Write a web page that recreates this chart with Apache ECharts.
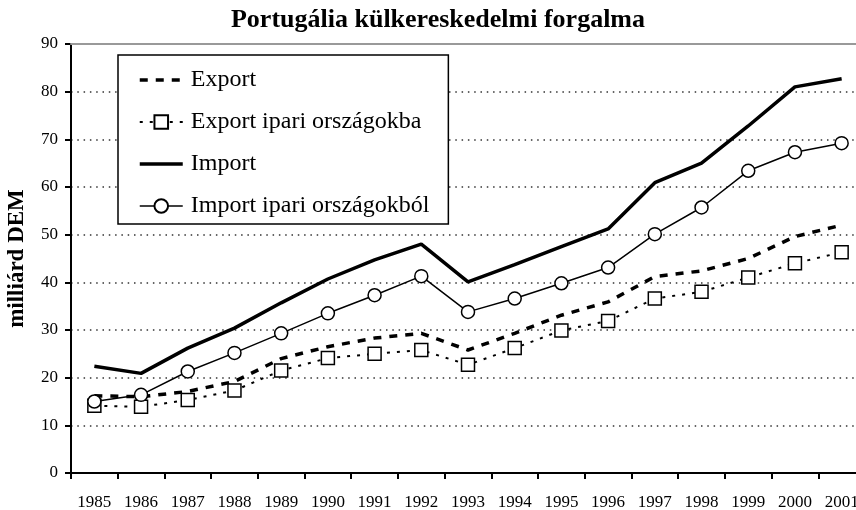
<!DOCTYPE html>
<html>
<head>
<meta charset="utf-8">
<script src="https://cdn.jsdelivr.net/npm/echarts@6/dist/echarts.min.js"></script>
<style>
  html, body { margin: 0; padding: 0; background: #ffffff; }
  #chartLine { width: 856px; height: 510px; }
</style>
</head>
<body>
<div id="chartLine"></div>
<script>
// évek (x tengely)
const years = ['1985', '1986', '1987', '1988', '1989', '1990', '1991', '1992', '1993',
  '1994', '1995', '1996', '1997', '1998', '1999', '2000', '2001'];

// milliárd DEM
const exportData = [16.2, 16.0, 17.1, 19.2, 24.0, 26.5, 28.3, 29.3, 25.8, 29.3, 33.1, 35.9, 41.2, 42.4, 45.0, 49.6, 52.0];
const exportIpari = [14.1, 13.9, 15.3, 17.3, 21.5, 24.1, 25.0, 25.8, 22.7, 26.2, 29.9, 31.9, 36.6, 38.0, 41.0, 44.0, 46.3];
const importData = [22.4, 20.9, 26.2, 30.4, 35.7, 40.7, 44.7, 48.0, 40.1, 43.7, 47.5, 51.2, 60.9, 65.0, 72.8, 81.0, 82.7];
const importIpari = [15.0, 16.4, 21.3, 25.2, 29.3, 33.5, 37.3, 41.3, 33.8, 36.6, 39.8, 43.1, 50.1, 55.7, 63.4, 67.3, 69.2];

const seriesNames = ['Export', 'Export ipari országokba', 'Import', 'Import ipari országokból'];

const serif = "'Liberation Serif', 'Times New Roman', serif";

const option = {
  animation: false,
  backgroundColor: '#ffffff',
  title: {
    text: 'Portugália külkereskedelmi forgalma',
    left: 433,
    top: 2,
    textAlign: 'center',
    textStyle: { fontFamily: serif, fontWeight: 'bold', fontSize: 26, color: '#000' },
  },
  legend: {
    orient: 'vertical',
    left: 118,
    top: 55,
    // jelölő nélküli sorozatoknál csak a vonal látszik
    data: [
      { name: seriesNames[0], itemStyle: { opacity: 0 }, lineStyle: { width: 3.5 } },
      { name: seriesNames[1], lineStyle: { width: 2 } },
      { name: seriesNames[2], itemStyle: { opacity: 0 }, lineStyle: { width: 3.5 } },
      { name: seriesNames[3], lineStyle: { width: 1.5 } },
    ],
    backgroundColor: '#ffffff',
    borderColor: '#000',
    borderWidth: 1.5,
    borderRadius: 0,
    padding: [13, 19, 6, 20],
    itemWidth: 43,
    itemHeight: 17,
    itemGap: 18,
    textStyle: { fontFamily: serif, fontSize: 24, color: '#000', lineHeight: 24, padding: [0, 0, 0, 3] },
  },
  grid: {
    top: 44,
    left: 71,
    right: -9,
    bottom: 37,
    outerBoundsMode: 'none',
  },
  xAxis: [
    {
      type: 'category',
      data: years,
      axisLine: { show: true, lineStyle: { color: '#000', width: 2 } },
      axisTick: { show: true, length: 6, lineStyle: { color: '#000', width: 2 } },
      axisLabel: { fontFamily: serif, fontSize: 17, color: '#000', margin: 21 },
    },
    {
      // felső szürke keretvonal
      type: 'category',
      position: 'top',
      data: years,
      z: 3,
      axisLine: { show: true, lineStyle: { color: '#999', width: 2 } },
      axisTick: { show: false },
      axisLabel: { show: false },
    },
  ],
  yAxis: {
    type: 'value',
    min: 0,
    max: 90,
    interval: 10,
    name: 'milliárd DEM',
    nameLocation: 'middle',
    nameGap: 42,
    nameRotate: 90,
    nameTextStyle: { fontFamily: serif, fontWeight: 'bold', fontSize: 23, color: '#000' },
    axisLine: { show: true, lineStyle: { color: '#000', width: 2 } },
    axisTick: { show: true, length: 6, lineStyle: { color: '#000', width: 2 } },
    axisLabel: { fontFamily: serif, fontSize: 17, color: '#000', margin: 13 },
    splitLine: {
      show: true,
      lineStyle: { color: '#333', width: 1.5, type: [1.5, 4.8] },
    },
  },
  series: [
    {
      name: seriesNames[0],
      type: 'line',
      data: exportData,
      symbol: 'none',
      z: 2,
      lineStyle: { color: '#000', width: 3.5, type: [8, 8] },
      itemStyle: { color: '#000' },
    },
    {
      name: seriesNames[1],
      type: 'line',
      data: exportIpari,
      symbol: 'rect',
      symbolSize: 13,
      z: 3,
      lineStyle: { color: '#000', width: 2, type: [3, 7] },
      itemStyle: { color: '#fff', borderColor: '#000', borderWidth: 1.5 },
    },
    {
      name: seriesNames[2],
      type: 'line',
      data: importData,
      symbol: 'none',
      z: 4,
      lineStyle: { color: '#000', width: 3.5 },
      itemStyle: { color: '#000' },
    },
    {
      name: seriesNames[3],
      type: 'line',
      data: importIpari,
      symbol: 'circle',
      symbolSize: 13,
      z: 5,
      lineStyle: { color: '#000', width: 1.5 },
      itemStyle: { color: '#fff', borderColor: '#000', borderWidth: 1.5 },
    },
  ],
};

const myChart = echarts.init(document.getElementById('chartLine'));
myChart.setOption(option);
window.addEventListener('resize', () => {
  myChart.resize();
});
</script>
</body>
</html>
